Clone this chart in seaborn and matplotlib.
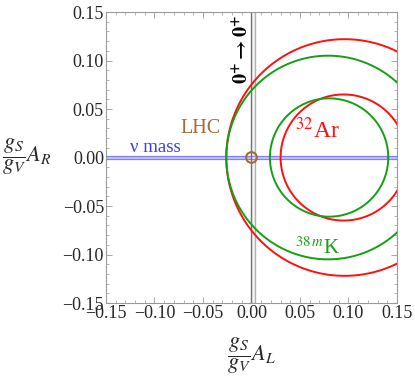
import numpy as np
import pandas as pd
import matplotlib
matplotlib.use("Agg")
import matplotlib.pyplot as plt
import seaborn as sns
from matplotlib.patches import Circle
from matplotlib.ticker import MultipleLocator, FuncFormatter

# circle constraints (center x, center y, radius)
ar_centers = [0.096, 0.095]
ar_radii = [0.122, 0.065]
k_centers = [0.079, 0.080]
k_radii = [0.105, 0.061]

# other limits
nu_band = [-0.0012, 0.0012]      # nu mass band in A_R
ft_band = [-0.0009, 0.0033]      # 0+ -> 0+ band in A_L
lhc_center = [0.0, 0.0]
lhc_radius = 0.0055

ticks = [-0.15, -0.10, -0.05, 0.00, 0.05, 0.10, 0.15]

red = "#ff1010"
green = "#14a014"
blue = "#3a3aff"
brown = "#a46a3a"

sns.set_style("ticks")
plt.rcParams["font.family"] = ["Liberation Serif", "DejaVu Serif"]
plt.rcParams["mathtext.fontset"] = "stix"

fig = plt.figure(figsize=(4.15, 3.79), dpi=100)
ax = fig.add_axes([0.2554, 0.2005, 0.7012, 0.7678])

# circles drawn through seaborn from the center / radius values
t = np.linspace(0, 2 * np.pi, 400)
rows = []
for name, cs, rs in [("32Ar", ar_centers, ar_radii), ("38mK", k_centers, k_radii)]:
    for i, (c, r) in enumerate(zip(cs, rs)):
        for tt in t:
            rows.append({"set": name, "ring": f"{name}_{i}",
                         "AL": c + r * np.cos(tt), "AR": r * np.sin(tt)})
df = pd.DataFrame(rows)

for ring, sub in df.groupby("ring"):
    col = red if sub["set"].iloc[0] == "32Ar" else green
    sns.lineplot(data=sub, x="AL", y="AR", sort=False, estimator=None,
                 color=col, lw=1.4, ax=ax, legend=False, zorder=3)
ax.set_xlabel("")
ax.set_ylabel("")

# nu mass band (horizontal)
ax.axhspan(nu_band[0], nu_band[1], color="#c8c8ff", zorder=1, lw=0)
ax.axhline(nu_band[0], color="#8080ff", lw=0.9, zorder=2)
ax.axhline(nu_band[1], color="#8080ff", lw=0.9, zorder=2)

# 0+ -> 0+ band (vertical)
ax.axvspan(ft_band[0], ft_band[1], color="#f2f2f2", zorder=1, lw=0)
ax.axvline(ft_band[0], color="#707070", lw=1.0, zorder=2)
ax.axvline(ft_band[1], color="#b0b0b0", lw=1.0, zorder=2)

# LHC
ax.add_patch(Circle(lhc_center, lhc_radius, fill=False, ec=brown, lw=1.5, zorder=4))

ax.set_xlim(-0.15, 0.15)
ax.set_ylim(-0.15, 0.15)
ax.set_xticks(ticks)
ax.set_yticks(ticks)
fmt = FuncFormatter(lambda v, p: f"{v:.2f}".replace("-", "\u2212") if abs(v) > 1e-9 else "0.00")
ax.xaxis.set_major_formatter(fmt)
ax.yaxis.set_major_formatter(fmt)
ax.xaxis.set_minor_locator(MultipleLocator(0.01))
ax.yaxis.set_minor_locator(MultipleLocator(0.01))
ax.tick_params(which="both", direction="in", top=True, right=True, color="#999999",
               labelsize=13, pad=1.5)
ax.tick_params(which="major", length=4, width=0.6)
ax.tick_params(which="minor", length=2, width=0.5)
for s in ax.spines.values():
    s.set_color("#999999")
    s.set_linewidth(0.8)

# axis labels placed in figure coordinates
fig.text(251 / 415, 1 - 356 / 379, r"$\dfrac{g_S}{g_V}A_L$", fontsize=16,
         ha="center", va="center")
fig.text(51 / 415, 1 - 157 / 379, r"$\dfrac{g_S}{g_V}A_R$", fontsize=16,
         ha="right", va="center")

ax.text(-0.0995, 0.0015, "\u03bd mass", color=blue, fontsize=13.5, ha="center", va="bottom")
ax.text(-0.052, 0.030, "LHC", color=brown, fontsize=14.5, ha="center", va="center")
ax.text(0.068, 0.028, r"$^{32}$Ar", color=red, fontsize=17, ha="center", va="center")
ax.text(0.068, -0.093, r"$^{38\,m}$K", color=green, fontsize=15, ha="center", va="center")
ax.text(-0.009, 0.112, r"$\mathbf{0^{+}\rightarrow 0^{+}}$", color="black", fontsize=14.5,
        rotation=90, ha="center", va="center")

fig.savefig("out.png", dpi=100)
